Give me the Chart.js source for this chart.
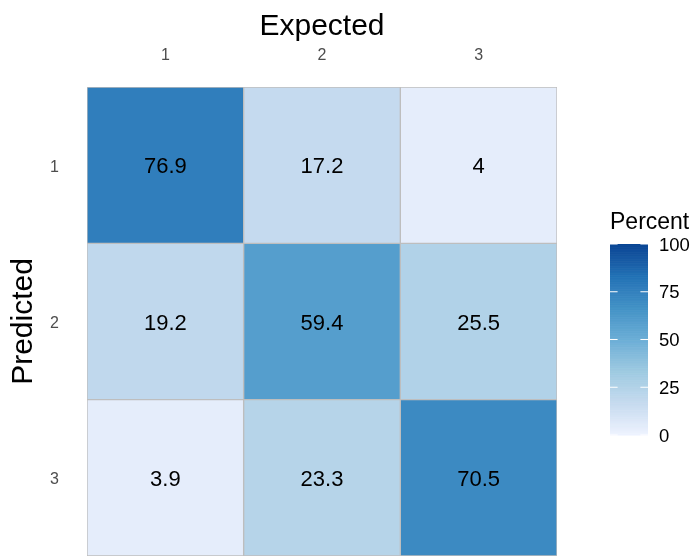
<!DOCTYPE html>
<html>
<head>
<meta charset="utf-8">
<script src="https://cdn.jsdelivr.net/npm/chart.js@4.4.1/dist/chart.umd.min.js"></script>
<style>
  html, body { margin: 0; padding: 0; background: #ffffff; }
  #wrap { width: 697px; height: 556px; }
</style>
</head>
<body>
<div id="wrap"><canvas id="c" width="697" height="556"></canvas></div>
<script>
// ---- data ----
const expectedLabels = ['1', '2', '3'];
const predictedLabels = ['1', '2', '3'];
const predicted1 = [76.9, 17.2, 4];
const predicted2 = [19.2, 59.4, 25.5];
const predicted3 = [3.9, 23.3, 70.5];
const legendTicks = [0, 25, 50, 75, 100];
const paletteStops = ['#EFF3FF', '#C6DBEF', '#9ECAE1', '#6BAED6', '#4292C6', '#2171B5', '#084594'];

const FONT = '"Liberation Sans", Arial, sans-serif';

// ---- colour scale (Lab interpolation like ggplot) ----
function hexToRgb(h) { return [parseInt(h.slice(1,3),16), parseInt(h.slice(3,5),16), parseInt(h.slice(5,7),16)]; }
function toLin(c) { c /= 255; return c <= 0.04045 ? c / 12.92 : Math.pow((c + 0.055) / 1.055, 2.4); }
function fromLin(c) { const v = c <= 0.0031308 ? 12.92 * c : 1.055 * Math.pow(c, 1 / 2.4) - 0.055; return Math.max(0, Math.min(255, Math.round(v * 255))); }
const WX = 0.95047, WY = 1.0, WZ = 1.08883;
function f(t) { return t > 216/24389 ? Math.cbrt(t) : (24389/27 * t + 16) / 116; }
function fi(t) { return t * t * t > 216/24389 ? t * t * t : (116 * t - 16) / (24389/27); }
function rgbToLab(rgb) {
  const r = toLin(rgb[0]), g = toLin(rgb[1]), b = toLin(rgb[2]);
  const x = (0.4124 * r + 0.3576 * g + 0.1805 * b) / WX;
  const y = (0.2126 * r + 0.7152 * g + 0.0722 * b) / WY;
  const z = (0.0193 * r + 0.1192 * g + 0.9505 * b) / WZ;
  const fx = f(x), fy = f(y), fz = f(z);
  return [116 * fy - 16, 500 * (fx - fy), 200 * (fy - fz)];
}
function labToRgb(lab) {
  const fy = (lab[0] + 16) / 116, fx = fy + lab[1] / 500, fz = fy - lab[2] / 200;
  const x = fi(fx) * WX, y = fi(fy) * WY, z = fi(fz) * WZ;
  const r = 3.2406 * x - 1.5372 * y - 0.4986 * z;
  const g = -0.9689 * x + 1.8758 * y + 0.0415 * z;
  const b = 0.0557 * x - 0.2040 * y + 1.0570 * z;
  return [fromLin(r), fromLin(g), fromLin(b)];
}
const labStops = paletteStops.map(h => rgbToLab(hexToRgb(h)));
function colorFor(v) {
  const t = Math.max(0, Math.min(1, v / 100)) * (labStops.length - 1);
  const i = Math.min(labStops.length - 2, Math.floor(t));
  const u = t - i;
  const a = labStops[i], b = labStops[i + 1];
  const rgb = labToRgb([a[0] + (b[0] - a[0]) * u, a[1] + (b[1] - a[1]) * u, a[2] + (b[2] - a[2]) * u]);
  return 'rgb(' + rgb.join(',') + ')';
}

const rows = [predicted1, predicted2, predicted3];

const datasets = rows.map((vals, r) => ({
  label: 'Predicted ' + predictedLabels[r],
  data: vals.map(() => [r + 0.5, r + 1.5]),
  values: vals,
  backgroundColor: vals.map(colorFor),
  borderColor: '#BEBEBE',
  borderWidth: 1,
  borderSkipped: false,
  barPercentage: 1,
  categoryPercentage: 1,
  grouped: false
}));

const cellLabels = {
  id: 'cellLabels',
  afterDatasetsDraw(chart) {
    const ctx = chart.ctx;
    ctx.save();
    ctx.fillStyle = '#000000';
    ctx.font = '22px ' + FONT;
    ctx.textAlign = 'center';
    ctx.textBaseline = 'middle';
    chart.data.datasets.forEach((ds, di) => {
      const meta = chart.getDatasetMeta(di);
      meta.data.forEach((el, i) => {
        const cy = (el.y + el.base) / 2 + 2;
        ctx.fillText(String(ds.values[i]), el.x, cy);
      });
    });
    ctx.restore();
  }
};

const colorbar = {
  id: 'colorbar',
  afterDraw(chart) {
    const ctx = chart.ctx;
    const x0 = 610, w = 38, top = 244, bottom = 435;
    const h = bottom - top;
    ctx.save();
    const n = 300;
    for (let i = 0; i < n; i++) {
      const v = (i + 0.5) / n * 100;
      const y1 = bottom - (i + 1) / n * h;
      ctx.fillStyle = colorFor(v);
      ctx.fillRect(x0, y1, w, h / n + 0.6);
    }
    ctx.strokeStyle = '#ffffff';
    ctx.lineWidth = 1;
    const tl = w / 5;
    ctx.font = '18.5px ' + FONT;
    ctx.fillStyle = '#000000';
    ctx.textAlign = 'left';
    ctx.textBaseline = 'middle';
    legendTicks.forEach(v => {
      const y = bottom - v / 100 * h;
      ctx.beginPath();
      ctx.moveTo(x0, y); ctx.lineTo(x0 + tl, y);
      ctx.moveTo(x0 + w - tl, y); ctx.lineTo(x0 + w, y);
      ctx.stroke();
      ctx.fillText(String(v), 659, y + 1.5);
    });
    ctx.font = '23px ' + FONT;
    ctx.fillText('Percent', 610, 223);
    ctx.restore();
  }
};

new Chart(document.getElementById('c'), {
  type: 'bar',
  data: { labels: expectedLabels, datasets },
  options: {
    responsive: false,
    animation: false,
    devicePixelRatio: 1,
    layout: { padding: { top: 0, left: 0, right: 140, bottom: -2 } },
    plugins: { legend: { display: false }, tooltip: { enabled: false } },
    scales: {
      x: {
        type: 'category',
        position: 'top',
        grid: { display: false, drawTicks: false },
        border: { display: false },
        ticks: { color: '#4D4D4D', font: { family: FONT, size: 16 }, padding: 21.5 },
        title: { display: true, text: 'Expected', color: '#000000', font: { family: FONT, size: 30 }, padding: { top: 8.5, bottom: 0 } },
        afterFit(scale) { scale.height = 87; scale.paddingLeft = 0; scale.paddingRight = 0; }
      },
      y: {
        type: 'linear',
        reverse: true,
        min: 0.5,
        max: 3.5,
        grid: { display: false, drawTicks: false },
        border: { display: false },
        afterBuildTicks(scale) { scale.ticks = predictedLabels.map((_, i) => ({ value: i + 1 })); },
        ticks: {
          color: '#4D4D4D',
          font: { family: FONT, size: 16 },
          padding: 28,
          labelOffset: 2,
          callback: (v) => predictedLabels[v - 1]
        },
        title: { display: true, text: 'Predicted', color: '#000000', font: { family: FONT, size: 30 }, padding: { top: 6, bottom: 0 } },
        afterFit(scale) { scale.width = 87; scale.paddingTop = 0; scale.paddingBottom = 0; }
      }
    }
  },
  plugins: [cellLabels, colorbar]
});
</script>
</body>
</html>
